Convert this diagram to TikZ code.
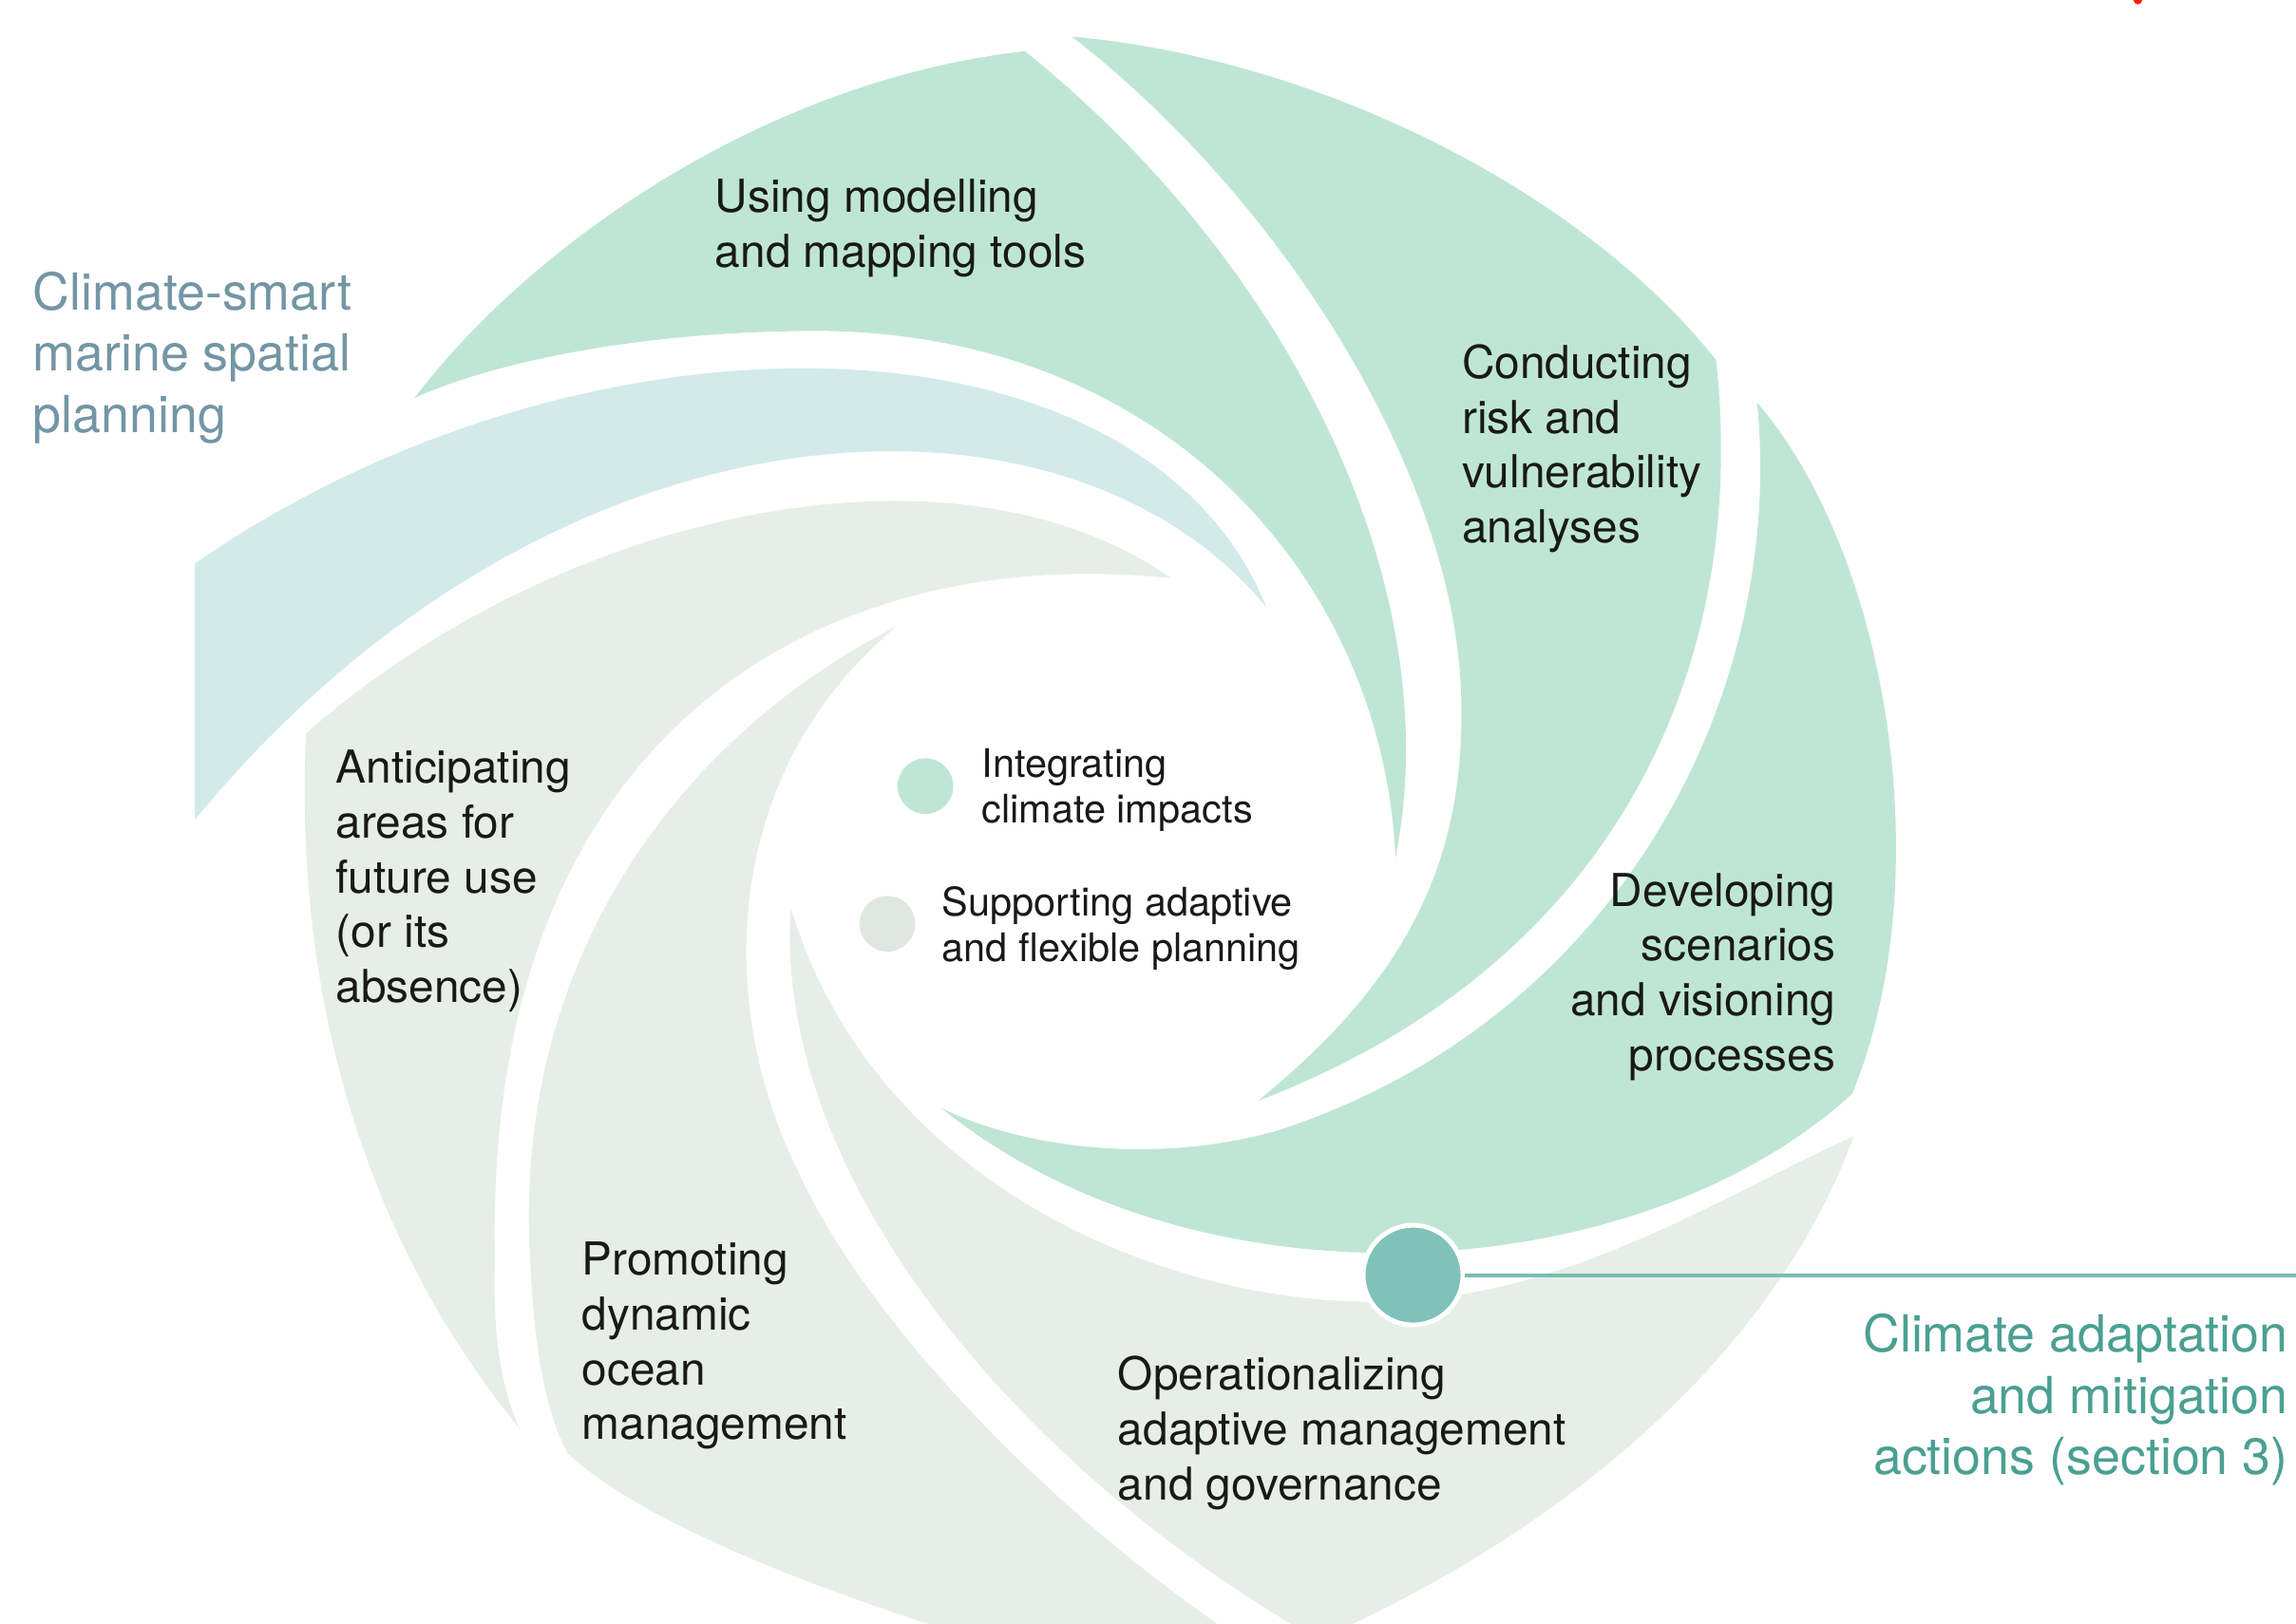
\documentclass[tikz,border=0pt]{standalone}
\usepackage{fontspec}
\setmainfont{TeX Gyre Heros}
\definecolor{cgreen}{RGB}{191,230,212}
\definecolor{cblue}{RGB}{211,234,234}
\definecolor{cgrey}{RGB}{231,238,231}
\definecolor{cdot}{RGB}{127,194,186}
\definecolor{cline}{RGB}{120,190,180}
\definecolor{cteal}{RGB}{74,160,146}
\definecolor{cslate}{RGB}{115,150,165}
\definecolor{ctext}{RGB}{25,25,25}
\begin{document}
\begin{tikzpicture}[x=0.015415cm, y=-0.015415cm,
  lbl/.style={inner sep=0pt, align=left, text=ctext, font=\fontsize{13.6}{16.4}\selectfont},
  lblr/.style={lbl, align=right},
  small/.style={inner sep=0pt, align=left, text=ctext, font=\fontsize{11.8}{13.6}\selectfont},
  outer/.style={inner sep=0pt, font=\fontsize{15.3}{18.4}\selectfont},
  legenddot/.style={circle, inner sep=0pt, minimum size=0.586cm},
  bigdot/.style={circle, inner sep=0pt, minimum size=1.05cm, fill=cdot, draw=white, line width=1.4pt},
  link/.style={draw=cline, line width=1.1pt}]
\useasboundingbox (0,0) rectangle (1568,1109);
\clip (0,0) rectangle (1568,1109);

% Blade A: Using modelling and mapping tools
\fill[cgreen] (283,272) .. controls (360,170) and (520,55) .. (700,35)
  .. controls (880,180) and (990,400) .. (953,586)
  .. controls (945,400) and (800,228) .. (560,226)
  .. controls (430,226) and (330,250) .. (283,272) -- cycle;

% Blade B: Conducting risk and vulnerability analyses
\fill[cgreen] (732,25) .. controls (900,40) and (1080,130) .. (1172,246)
  .. controls (1195,460) and (1100,660) .. (859,752)
  .. controls (960,670) and (1000,590) .. (998,480)
  .. controls (996,330) and (880,140) .. (732,25) -- cycle;

% Blade C: Developing scenarios and visioning processes
\fill[cgreen] (1200,275) .. controls (1290,380) and (1325,600) .. (1265,747)
  .. controls (1120,880) and (820,900) .. (643,757)
  .. controls (700,785) and (790,795) .. (870,773)
  .. controls (1100,700) and (1220,480) .. (1200,275) -- cycle;

% Blade D: Operationalizing adaptive management
\fill[cgrey] (1266,776) .. controls (1210,930) and (1060,1050) .. (900,1120)
  .. controls (690,1000) and (528,800) .. (540,620)
  .. controls (600,820) and (820,900) .. (965,888)
  .. controls (1080,880) and (1180,815) .. (1266,776) -- cycle;

% Blade E: Promoting dynamic ocean management
\fill[cgrey] (612,428) .. controls (470,500) and (350,650) .. (362,860)
  .. controls (365,930) and (375,970) .. (388,993)
  .. controls (450,1050) and (600,1100) .. (700,1130)
  -- (870,1135)
  .. controls (720,1040) and (590,900) .. (545,800)
  .. controls (490,690) and (490,530) .. (612,428) -- cycle;

% Blade F: Anticipating areas for future use
\fill[cgrey] (209,501) .. controls (380,350) and (650,290) .. (800,395)
  .. controls (560,370) and (330,500) .. (338,860)
  .. controls (336,920) and (345,955) .. (355,976)
  .. controls (260,860) and (200,700) .. (209,501) -- cycle;

% Blade G: light blue band
\fill[cblue] (133,385) .. controls (400,200) and (780,205) .. (865,415)
  .. controls (730,250) and (380,260) .. (133,560) -- cycle;

% small red mark at top edge
\fill[red!75!orange] (1460,0) circle [radius=3];

% Labels
\node[lbl, anchor=north west] (tA) at (488,122) {Using modelling\\and mapping tools};
\node[lbl, anchor=north west] (tB) at (998,235) {Conducting\\risk and\\vulnerability\\analyses};
\node[lblr, anchor=north east] (tC) at (1254,596) {Developing\\scenarios\\and visioning\\processes};
\node[lbl, anchor=north west] (tD) at (763,926) {Operationalizing\\adaptive management\\and governance};
\node[lbl, anchor=north west] (tE) at (397,848) {Promoting\\dynamic\\ocean\\management};
\node[lbl, anchor=north west] (tF) at (229,512) {Anticipating\\areas for\\future use\\(or its\\absence)};

% Legend
\node[legenddot, fill=cgreen] (lg1) at (632,537) {};
\node[small, anchor=north west] (lt1) at (670,511) {Integrating\\climate impacts};
\node[legenddot, fill=cgrey!97!black] (lg2) at (606,631) {};
\node[small, anchor=north west] (lt2) at (643,605) {Supporting adaptive\\and flexible planning};

% Outer labels
\node[outer, anchor=north west, align=left, text=cslate] (msp) at (22,185) {Climate-smart\\marine spatial\\planning};
\node[outer, anchor=north east, align=right, text=cteal] (act) at (1563,897) {Climate adaptation\\and mitigation\\actions (section 3)};

% Connector
\coordinate (lineend) at (1575,871);
\node[bigdot] (dot) at (965,871) {};
\draw[link] (dot.east) -- (lineend);
\end{tikzpicture}
\end{document}
